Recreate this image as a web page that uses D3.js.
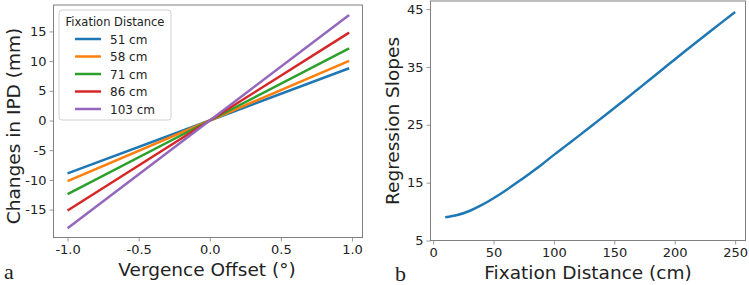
<!DOCTYPE html>
<html>
<head>
<meta charset="utf-8">
<script src="https://cdn.jsdelivr.net/npm/d3@7"></script>
<style>
  body { margin: 0; background: #fff; }
  svg text { font-family: "DejaVu Sans", sans-serif; fill: #222; }
</style>
</head>
<body>
<div id="app"></div>
<script>
// panel a: straight regression lines through the origin
const offsets = [-1.0, 0.0, 0.98];
const distances = ["51 cm", "58 cm", "71 cm", "86 cm", "103 cm"];
const ipd51 = [-8.9, 0, 8.8];
const ipd58 = [-10.2, 0, 10.05];
const ipd71 = [-12.4, 0, 12.15];
const ipd86 = [-15.15, 0, 14.8];
const ipd103 = [-18.15, 0, 17.75];
const ipdSeries = [ipd51, ipd58, ipd71, ipd86, ipd103];
const colors = ["#1f77b4", "#ff7f0e", "#2ca02c", "#d62728", "#9467bd"];
const ticksA_x = [-1.0, -0.5, 0.0, 0.5, 1.0];
const ticksA_y = [-15, -10, -5, 0, 5, 10, 15];

// panel b: slope vs fixation distance
const fixDist = [10, 20, 30, 40, 50, 60, 70, 80, 90, 100, 110, 120, 130, 140, 150,
                 160, 170, 180, 190, 200, 210, 220, 230, 240, 250];
const slopes = [9.0, 9.4, 10.1, 11.1, 12.3, 13.65, 15.1, 16.6, 18.15, 19.8, 21.4, 23.0, 24.62, 26.26, 27.9,
                29.56, 31.24, 32.92, 34.61, 36.3, 37.96, 39.61, 41.25, 42.88, 44.5];
const ticksB_x = [0, 50, 100, 150, 200, 250];
const ticksB_y = [5, 15, 25, 35, 45];

const svg = d3.select("#app").append("svg")
    .attr("width", 749)
    .attr("height", 285);

const spineColor = "#808080";
// matplotlib-like labels with a plain hyphen for negatives
const fmt = f => d => d3.format(f)(d).replace("\u2212", "-");

const styleAxis = g => {
    g.select(".domain").remove();
    g.selectAll(".tick line").attr("stroke", spineColor).attr("stroke-width", 0.8);
    g.selectAll(".tick text").style("font-size", "13px").attr("fill", "#222");
};

const frame = (g, w, h) => {
    g.append("rect")
        .attr("x", 0).attr("y", 0)
        .attr("width", w).attr("height", h)
        .attr("fill", "none")
        .attr("stroke", spineColor)
        .attr("stroke-width", 1);
};

// ---------- panel a ----------
const a = {left: 53.5, top: 5, right: 362.5, bottom: 237.5};
const wA = a.right - a.left, hA = a.bottom - a.top;
const gA = svg.append("g").attr("transform", "translate(" + a.left + "," + a.top + ")");

const xA = d3.scaleLinear().domain([-1.099, 1.074]).range([0, wA]);
const yA = d3.scaleLinear().domain([-19.7, 19.45]).range([hA, 0]);

gA.append("g")
    .attr("transform", "translate(0," + hA + ")")
    .call(d3.axisBottom(xA).tickValues(ticksA_x).tickFormat(fmt(".1f")).tickSize(4).tickPadding(3))
    .call(styleAxis);
gA.append("g")
    .call(d3.axisLeft(yA).tickValues(ticksA_y).tickFormat(fmt("d")).tickSize(4).tickPadding(3))
    .call(styleAxis);

const lineA = d3.line().x((d, i) => xA(offsets[i])).y(d => yA(d));
ipdSeries.forEach((s, k) => {
    gA.append("path")
        .datum(s)
        .attr("fill", "none")
        .attr("stroke", colors[k])
        .attr("stroke-width", 2.5)
        .attr("d", lineA);
});
frame(gA, wA, hA);

// legend
const leg = svg.append("g").attr("transform", "translate(59,10)");
leg.append("rect")
    .attr("width", 112).attr("height", 110)
    .attr("rx", 3)
    .attr("fill", "#fff")
    .attr("stroke", "#d0d0d0")
    .attr("stroke-width", 1);
leg.append("text")
    .attr("x", 56).attr("y", 15.5)
    .attr("text-anchor", "middle")
    .style("font-size", "11.5px")
    .text("Fixation Distance");
distances.forEach((name, k) => {
    const yy = 29 + k * 17.5;
    leg.append("line")
        .attr("x1", 16).attr("x2", 42)
        .attr("y1", yy).attr("y2", yy)
        .attr("stroke", colors[k])
        .attr("stroke-width", 2.5);
    leg.append("text")
        .attr("x", 51).attr("y", yy + 4.5)
        .style("font-size", "12px")
        .text(name);
});

// axis labels a
svg.append("text")
    .attr("transform", "translate(20,126) rotate(-90)")
    .attr("text-anchor", "middle")
    .style("font-size", "18.5px")
    .text("Changes in IPD (mm)");
svg.append("text")
    .attr("x", 207).attr("y", 276)
    .attr("text-anchor", "middle")
    .style("font-size", "18.5px")
    .text("Vergence Offset (°)");
svg.append("text")
    .attr("x", 4).attr("y", 279)
    .style("font-family", "'Liberation Serif', serif")
    .style("font-size", "22px")
    .text("a");

// ---------- panel b ----------
const b = {left: 430.5, top: 1, right: 745.5, bottom: 240.5};
const wB = b.right - b.left, hB = b.bottom - b.top;
const gB = svg.append("g").attr("transform", "translate(" + b.left + "," + b.top + ")");

const xB = d3.scaleLinear().domain([-2.2, 258.6]).range([0, wB]);
const yB = d3.scaleLinear().domain([5, 46.4]).range([hB, 0]);

gB.append("g")
    .attr("transform", "translate(0," + hB + ")")
    .call(d3.axisBottom(xB).tickValues(ticksB_x).tickFormat(fmt("d")).tickSize(4).tickPadding(3))
    .call(styleAxis);
gB.append("g")
    .call(d3.axisLeft(yB).tickValues(ticksB_y).tickFormat(fmt("d")).tickSize(4).tickPadding(3))
    .call(styleAxis);

gB.append("path")
    .datum(slopes)
    .attr("fill", "none")
    .attr("stroke", colors[0])
    .attr("stroke-width", 2.5)
    .attr("d", d3.line().curve(d3.curveMonotoneX).x((d, i) => xB(fixDist[i])).y(d => yB(d)));
frame(gB, wB, hB);

svg.append("text")
    .attr("transform", "translate(399,121) rotate(-90)")
    .attr("text-anchor", "middle")
    .style("font-size", "18.5px")
    .text("Regression Slopes");
svg.append("text")
    .attr("x", 588).attr("y", 279)
    .attr("text-anchor", "middle")
    .style("font-size", "18.5px")
    .text("Fixation Distance (cm)");
svg.append("text")
    .attr("x", 395).attr("y", 281)
    .style("font-family", "'Liberation Serif', serif")
    .style("font-size", "22px")
    .text("b");
</script>
</body>
</html>
